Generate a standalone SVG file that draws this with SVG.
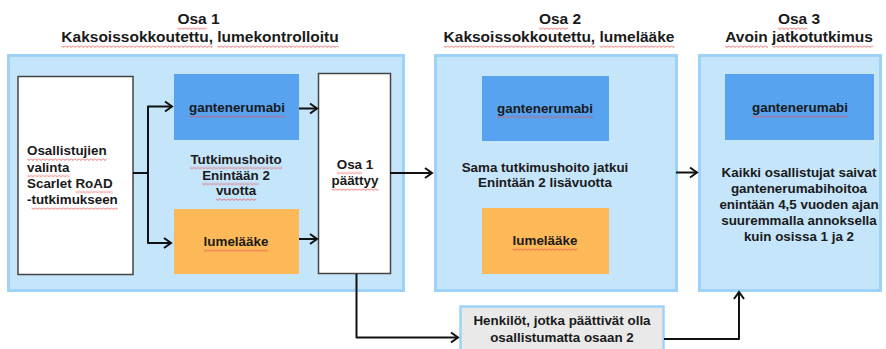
<svg xmlns="http://www.w3.org/2000/svg" width="886" height="349" viewBox="0 0 886 349">
<defs>
<style>
.t{font-family:"Liberation Sans",Arial,sans-serif;font-weight:bold;fill:#1a1a1a;text-anchor:middle}
.h{font-size:15.5px}
.b{font-size:13.4px}
.part{fill:#c5e5fb;stroke:#9fd2f7;stroke-width:3}
.white{fill:#ffffff;stroke:#444444;stroke-width:1.5}
.gan{fill:#57a3f0}
.lum{fill:#fdb858}
.hen{fill:#e9e9e9;stroke:#9fd2f7;stroke-width:2.5}
.c{fill:none;stroke:#111;stroke-width:2;stroke-linejoin:round}
.sq{fill:url(#sq)}
</style>
<marker id="ar" markerUnits="userSpaceOnUse" markerWidth="12" markerHeight="14" refX="10" refY="7" orient="auto">
<path d="M3,2 L10,7 L3,12" fill="none" stroke="#111" stroke-width="2"/>
</marker>
<pattern id="sq" patternUnits="userSpaceOnUse" width="4" height="3">
<path d="M0,0.5 L2,2.5 L4,0.5" fill="none" stroke="#e65252" stroke-width="0.9"/>
</pattern>
</defs>
<rect width="886" height="349" fill="#ffffff"/>

<g id="title1">
<text class="t h" x="198.5" y="24">Osa 1</text>
<text class="t h" x="200" y="42">Kaksoissokkoutettu, lumekontrolloitu</text>
</g>
<g id="title2">
<text class="t h" x="560" y="24">Osa 2</text>
<text class="t h" x="559" y="42">Kaksoissokkoutettu, lumelääke</text>
</g>
<g id="title3">
<text class="t h" x="799" y="24">Osa 3</text>
<text class="t h" x="799" y="42">Avoin jatkotutkimus</text>
</g>

<g id="part1">
<rect class="part" x="8.5" y="55.5" width="395" height="235"/>
</g>
<g id="part2">
<rect class="part" x="435.5" y="55.5" width="241" height="235"/>
</g>
<g id="part3">
<rect class="part" x="699.5" y="55.5" width="181" height="235"/>
<text class="t b" x="799" y="177">Kaikki osallistujat saivat</text>
<text class="t b" x="799" y="193">gantenerumabihoitoa</text>
<text class="t b" x="799" y="208.5">enintään 4,5 vuoden ajan</text>
<text class="t b" x="799" y="224.5">suuremmalla annoksella</text>
<text class="t b" x="799" y="240.5">kuin osissa 1 ja 2</text>
</g>

<g id="selection">
<rect class="white" x="18" y="76.5" width="115" height="198"/>
<text class="t b" x="27" y="155" style="text-anchor:start">Osallistujien</text>
<text class="t b" x="27" y="171.5" style="text-anchor:start">valinta</text>
<text class="t b" x="27" y="187.5" style="text-anchor:start">Scarlet RoAD</text>
<text class="t b" x="27" y="204" style="text-anchor:start">-tutkimukseen</text>
</g>

<g id="p1-gan">
<rect class="gan" x="174" y="74" width="125" height="66"/>
<text class="t b" x="237" y="112">gantenerumabi</text>
</g>
<g id="p1-treat">
<text class="t b" x="236" y="163.5">Tutkimushoito</text>
<text class="t b" x="236" y="179.5">Enintään 2</text>
<text class="t b" x="236" y="195">vuotta</text>
</g>
<g id="p1-lum">
<rect class="lum" x="174" y="209" width="125" height="65"/>
<text class="t b" x="236" y="246">lumelääke</text>
</g>
<g id="p1-end">
<rect class="white" x="318.5" y="73.5" width="72" height="200"/>
<text class="t b" x="355" y="168.5">Osa 1</text>
<text class="t b" x="355" y="185">päättyy</text>
</g>

<g id="p2-gan">
<rect class="gan" x="482" y="76" width="127" height="65"/>
<text class="t b" x="545" y="112.5">gantenerumabi</text>
</g>
<g id="p2-treat">
<text class="t b" x="545" y="172">Sama tutkimushoito jatkui</text>
<text class="t b" x="545" y="187">Enintään 2 lisävuotta</text>
</g>
<g id="p2-lum">
<rect class="lum" x="482" y="208" width="127" height="66"/>
<text class="t b" x="545" y="245">lumelääke</text>
</g>

<g id="p3-gan">
<rect class="gan" x="725" y="74" width="149" height="66"/>
<text class="t b" x="800" y="112">gantenerumabi</text>
</g>

<g id="dropout">
<rect class="hen" x="460.5" y="306.5" width="203" height="50"/>
<text class="t b" x="562" y="325">Henkilöt, jotka päättivät olla</text>
<text class="t b" x="562" y="342">osallistumatta osaan 2</text>
</g>

<g id="spellcheck">
<rect class="sq" transform="translate(177.5,27)" width="29.3" height="3"/>
<rect class="sq" transform="translate(61.3,45)" width="151.6" height="3"/>
<rect class="sq" transform="translate(217.2,45)" width="121.4" height="3"/>
<rect class="sq" transform="translate(538.9,27)" width="29.3" height="3"/>
<rect class="sq" transform="translate(443.6,45)" width="151.6" height="3"/>
<rect class="sq" transform="translate(599.5,45)" width="75" height="3"/>
<rect class="sq" transform="translate(778,27)" width="29.3" height="3"/>
<rect class="sq" transform="translate(724.9,45)" width="43.1" height="3"/>
<rect class="sq" transform="translate(772.3,45)" width="100.8" height="3"/>
<rect class="sq" transform="translate(189,115)" width="96" height="3"/>
<rect class="sq" transform="translate(497,115.5)" width="96" height="3"/>
<rect class="sq" transform="translate(752,115)" width="96" height="3"/>
<rect class="sq" transform="translate(203.6,249)" width="64.8" height="3"/>
<rect class="sq" transform="translate(512.6,248)" width="64.8" height="3"/>
<rect class="sq" transform="translate(27,158)" width="79.7" height="3"/>
<rect class="sq" transform="translate(27,174.5)" width="42.5" height="3"/>
<rect class="sq" transform="translate(75.4,190.5)" width="37.2" height="3"/>
<rect class="sq" transform="translate(31.5,207)" width="86.3" height="3"/>
<rect class="sq" transform="translate(189.9,166.5)" width="92.3" height="3"/>
<rect class="sq" transform="translate(202.1,182.5)" width="56.6" height="3"/>
<rect class="sq" transform="translate(215.9,198)" width="40.2" height="3"/>
<rect class="sq" transform="translate(336.7,171.5)" width="25.3" height="3"/>
<rect class="sq" transform="translate(331.5,188)" width="46.9" height="3"/>
</g>

<g id="connectors">
<path class="c" d="M133,173 H148 V106.5 H172" marker-end="url(#ar)"/>
<path class="c" d="M148,173 V243 H171" marker-end="url(#ar)"/>
<path class="c" d="M299,108.5 H317" marker-end="url(#ar)"/>
<path class="c" d="M299,239 H317" marker-end="url(#ar)"/>
<path class="c" d="M390,173 H432" marker-end="url(#ar)"/>
<path class="c" d="M676,172.5 H697" marker-end="url(#ar)"/>
<path class="c" d="M356.5,274 V337.5 H458" marker-end="url(#ar)"/>
<path class="c" d="M664,339 H739 V292" marker-end="url(#ar)"/>
</g>
</svg>
